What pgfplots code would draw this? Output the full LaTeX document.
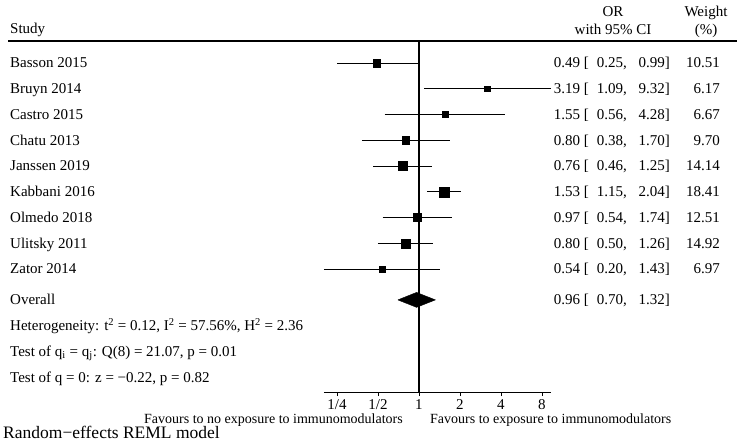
\documentclass[border=0pt]{standalone}
\usepackage{fontspec}
\setmainfont{Liberation Serif}
\usepackage{pgfplots}
\pgfplotsset{compat=1.18}
\usepackage{pgfplotstable}
% row: 1 = Basson ... 9 = Zator
\pgfplotstableread{
row or lo hi w
1 0.49 0.25 0.99 10.51
2 3.19 1.09 9.32 6.17
3 1.55 0.56 4.28 6.67
4 0.80 0.38 1.70 9.70
5 0.76 0.46 1.25 14.14
6 1.53 1.15 2.04 18.41
7 0.97 0.54 1.74 12.51
8 0.80 0.50 1.26 14.92
9 0.54 0.20 1.43 6.97
}\studies
\tikzset{t/.style={inner sep=0pt, font=\fontsize{15}{15}\selectfont},
 s/.style={inner sep=0pt, font=\fontsize{14}{14}\selectfont}}
\begin{document}
\begin{tikzpicture}
\path[use as bounding box] (0,0) rectangle (737pt,441pt);
\begin{axis}[at={(323.8pt,49pt)}, anchor=south west, scale only axis,
  width=227.2pt, height=351pt,
  xmode=log, log basis x=2, xmin=0.20, xmax=9.32,
  ymin=0.1456, ymax=13.777, y dir=reverse,
  axis x line=bottom, axis y line=none,
  x axis line style={-, line width=0.8pt},
  xtick={0.25,0.5,1,2,4,8}, xticklabels={1/4,1/2,1,2,4,8},
  xminorticks=false,
  tick align=outside, major tick length=4pt,
  tick style={black, line width=0.8pt},
  xticklabel style={font=\fontsize{15}{15}\selectfont, inner sep=1.5pt, yshift=-2pt},
  clip=false]
\addplot[black, line width=1.2pt] coordinates {(1,0.1456) (1,13.777)};
\addplot[black, line width=0.9pt, unbounded coords=jump] coordinates {
(0.25,1) (0.99,1) (nan,nan)
(1.09,2) (9.32,2) (nan,nan)
(0.56,3) (4.28,3) (nan,nan)
(0.38,4) (1.70,4) (nan,nan)
(0.46,5) (1.25,5) (nan,nan)
(1.15,6) (2.04,6) (nan,nan)
(0.54,7) (1.74,7) (nan,nan)
(0.50,8) (1.26,8) (nan,nan)
(0.20,9) (1.43,9)};
\addplot[only marks, mark=square*, scatter,
  scatter/use mapped color={draw=black, fill=black},
  visualization depends on={\thisrow{w}\as\wt},
  scatter/@pre marker code/.append style={/tikz/mark size={1.17*sqrt(\wt)}}]
  table[x=or, y=row] {\studies};
\addplot[fill=black, draw=black] coordinates {(0.70,10.2) (0.96,9.91) (1.32,10.2) (0.96,10.49) (0.70,10.2)};
\end{axis}
\begin{scope}[x=1pt, y=-1pt, shift={(0,441pt)}]
\draw[line width=1.2pt] (8,41) -- (737,41);
\node[t, anchor=base west] at (10,34) {Study};
\node[t, anchor=base] at (613,17) {OR};
\node[t, anchor=base] at (613,35) {with 95\% CI};
\node[t, anchor=base] at (706,17) {Weight};
\node[t, anchor=base] at (706,35) {(\%)};
\foreach \y/\n/\o/\l/\h/\w in {
  63/Basson 2015/0.49/0.25/0.99/10.51,
  88.75/Bruyn 2014/3.19/1.09/9.32/6.17,
  114.5/Castro 2015/1.55/0.56/4.28/6.67,
  140.25/Chatu 2013/0.80/0.38/1.70/9.70,
  166/Janssen 2019/0.76/0.46/1.25/14.14,
  191.75/Kabbani 2016/1.53/1.15/2.04/18.41,
  217.5/Olmedo 2018/0.97/0.54/1.74/12.51,
  243.25/Ulitsky 2011/0.80/0.50/1.26/14.92,
  269/Zator 2014/0.54/0.20/1.43/6.97}{
  \node[t, anchor=base west] at (10,\y+5) {\n};
  \node[t, anchor=base east] at (589,\y+5) {\o\ [};
  \node[t, anchor=base east] at (627,\y+5) {\l,};
  \node[t, anchor=base east] at (670,\y+5) {\h]};
  \node[t, anchor=base east] at (720,\y+5) {\w};
}
\node[t, anchor=base west] at (10,304.9) {Overall};
\node[t, anchor=base east] at (589,304.9) {0.96 [};
\node[t, anchor=base east] at (627,304.9) {0.70,};
\node[t, anchor=base east] at (670,304.9) {1.32]};
\node[t, anchor=base west] at (10,330.6) {Heterogeneity: t\textsuperscript{2} = 0.12, I\textsuperscript{2} = 57.56\%, H\textsuperscript{2} = 2.36};
\node[t, anchor=base west] at (10,356.4) {Test of q\textsubscript{i} = q\textsubscript{j}: Q(8) = 21.07, p = 0.01};
\node[t, anchor=base west] at (10,382.1) {Test of q = 0: z = −0.22, p = 0.82};
\node[s, anchor=base east] at (403,424) {Favours to no exposure to immunomodulators};
\node[s, anchor=base west] at (430,424) {Favours to exposure to immunomodulators};
\node[inner sep=0pt, font=\fontsize{17.5}{17.5}\selectfont, anchor=base west] at (3,438.5) {Random−effects REML model};
\end{scope}
\end{tikzpicture}
\end{document}
